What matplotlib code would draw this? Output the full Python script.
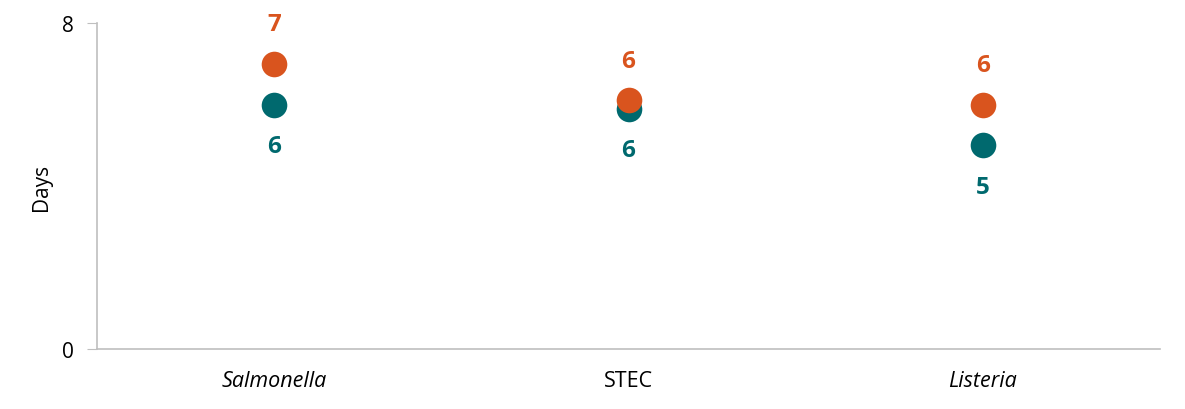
import matplotlib
matplotlib.use("Agg")
from matplotlib import pyplot as plt
import numpy as np

plt.rcParams['font.family'] = ['Open Sans', 'DejaVu Sans']

categories = ['Salmonella', 'STEC', 'Listeria']
italic = [True, False, True]
teal_values = [6.0, 5.9, 5.0]
orange_values = [7.0, 6.1, 6.0]
teal_labels = ['6', '6', '5']
orange_labels = ['7', '6', '6']

teal = '#00696E'
orange = '#D9541E'

fig = plt.figure(figsize=(11.85, 4.1), dpi=100)
ax = fig.add_axes([97 / 1185, 60 / 410, (1160 - 97) / 1185, (350 - 24) / 410])

x = np.arange(len(categories))
ax.scatter(x, teal_values, s=340, color=teal, zorder=3, linewidths=0)
ax.scatter(x, orange_values, s=340, color=orange, zorder=4, linewidths=0)

for xi, v, lab in zip(x, orange_values, orange_labels):
    ax.annotate(lab, (xi, v), xytext=(0, 28.5), textcoords='offset points',
                ha='center', va='center', fontsize=17.5, fontweight='bold', color=orange)
for xi, v, lab in zip(x, teal_values, teal_labels):
    ax.annotate(lab, (xi, v), xytext=(0, -30), textcoords='offset points',
                ha='center', va='center', fontsize=17.5, fontweight='bold', color=teal)

ax.set_xlim(-0.5, 2.5)
ax.set_ylim(0, 8)
ax.set_yticks([0, 8])
ax.set_xticks(x)
ax.set_xticklabels(categories, fontsize=15.5)
for lbl, it in zip(ax.get_xticklabels(), italic):
    if it:
        lbl.set_style('italic')
ax.tick_params(axis='x', length=0, pad=15)
ax.tick_params(axis='y', length=7, color='#BFBFBF', labelsize=15, pad=10)
ax.set_ylabel('Days', fontsize=15, labelpad=7)

for s in ['top', 'right']:
    ax.spines[s].set_visible(False)
for s in ['left', 'bottom']:
    ax.spines[s].set_color('#BFBFBF')
    ax.spines[s].set_linewidth(1.2)

fig.savefig('out.png', dpi=100)
